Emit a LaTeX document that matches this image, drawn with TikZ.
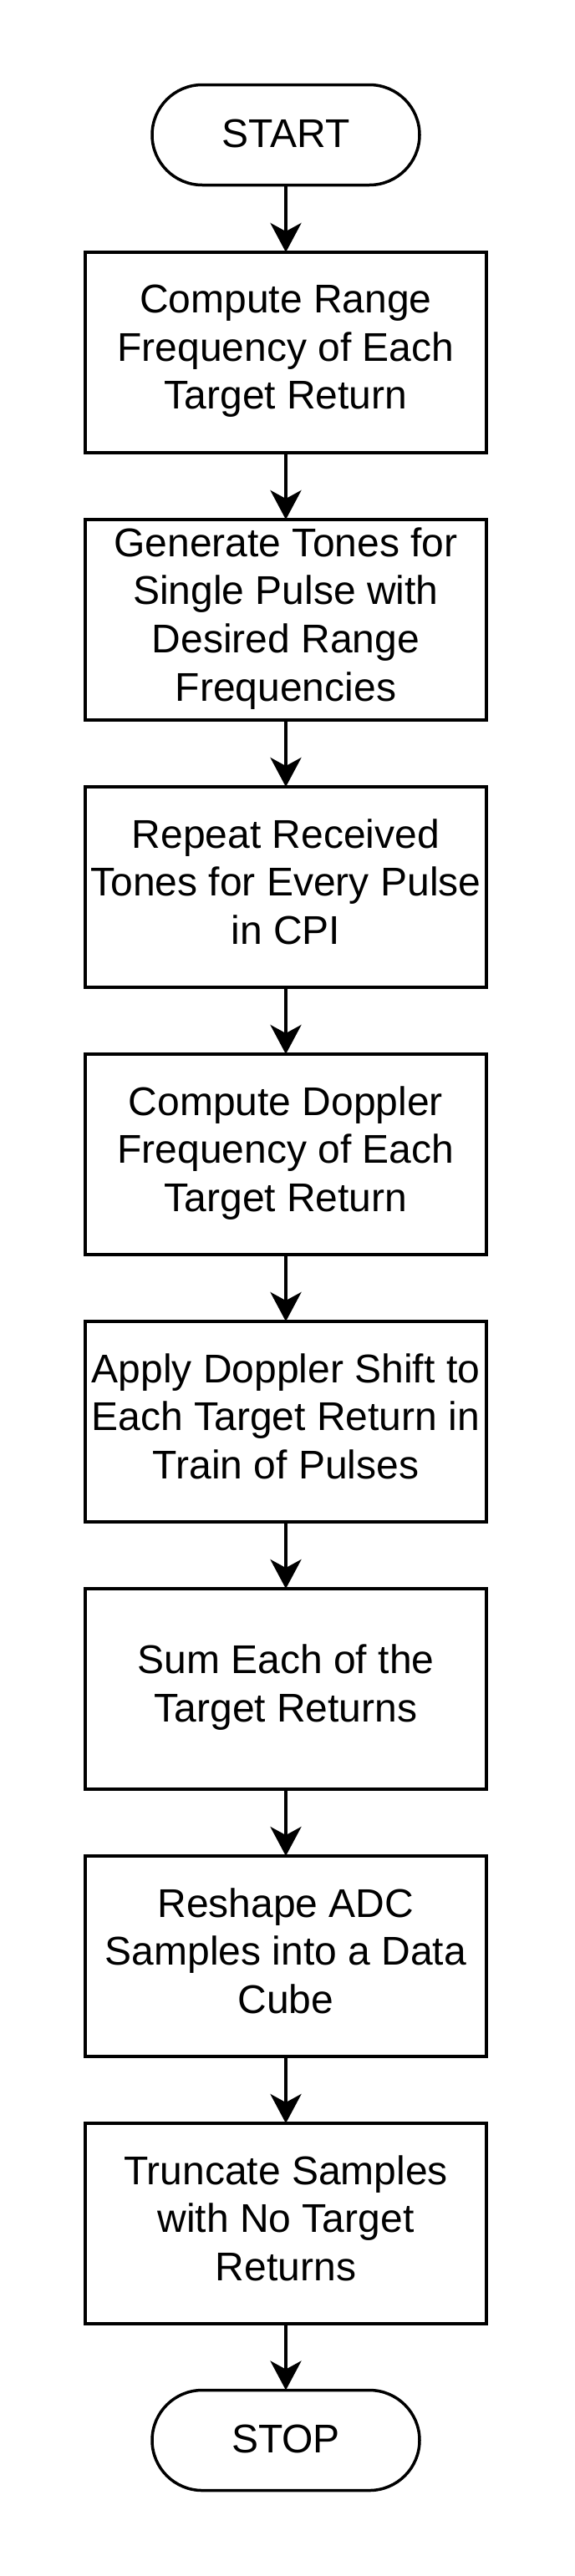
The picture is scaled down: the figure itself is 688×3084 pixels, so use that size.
\documentclass[tikz,border=0pt]{standalone}
\usepackage{fontspec}
\setmainfont{Liberation Sans}
\usetikzlibrary{arrows.meta}
\newcommand\linestrut{\rule[-13.4pt]{0pt}{57.6pt}}
\begin{document}
\begin{tikzpicture}[x=1pt,y=-1pt,
  txt/.style={align=center,font=\fontsize{48pt}{57.6pt}\selectfont,execute at begin node=\linestrut,execute at end node=\linestrut},
  stepbox/.style={txt,draw=black,line width=4pt,fill=white,rectangle,minimum width=480pt,minimum height=240pt,inner sep=0pt,outer sep=0pt},
  term/.style={txt,draw=black,line width=3.5pt,fill=white,rectangle,rounded corners=60pt,minimum width=320pt,minimum height=120pt,inner sep=0pt,outer sep=0pt},
  flow/.style={line width=4pt,-{Stealth[length=35pt,width=37pt,inset=10pt]}}]
\useasboundingbox[fill=white] (0,0) rectangle (688,3084);
\node[term] (start) at (342,161.5) {START};
\node[stepbox] (b1) at (342,422) {Compute Range\\Frequency of Each\\Target Return};
\node[stepbox] (b2) at (342,742) {Generate Tones for\\Single Pulse with\\Desired Range\\Frequencies};
\node[stepbox] (b3) at (342,1062) {Repeat Received\\Tones for Every Pulse\\in CPI};
\node[stepbox] (b4) at (342,1382) {Compute Doppler\\Frequency of Each\\Target Return};
\node[stepbox] (b5) at (342,1702) {Apply Doppler Shift to\\Each Target Return in\\Train of Pulses};
\node[stepbox] (b6) at (342,2022) {Sum Each of the\\Target Returns};
\node[stepbox] (b7) at (342,2342) {Reshape ADC\\Samples into a Data\\Cube};
\node[stepbox] (b8) at (342,2662) {Truncate Samples\\with No Target\\Returns};
\node[term] (stop) at (342,2921.5) {STOP};
\draw[flow] (start) -- (b1);
\draw[flow] (b1) -- (b2);
\draw[flow] (b2) -- (b3);
\draw[flow] (b3) -- (b4);
\draw[flow] (b4) -- (b5);
\draw[flow] (b5) -- (b6);
\draw[flow] (b6) -- (b7);
\draw[flow] (b7) -- (b8);
\draw[flow] (b8) -- (stop);
\end{tikzpicture}
\end{document}
